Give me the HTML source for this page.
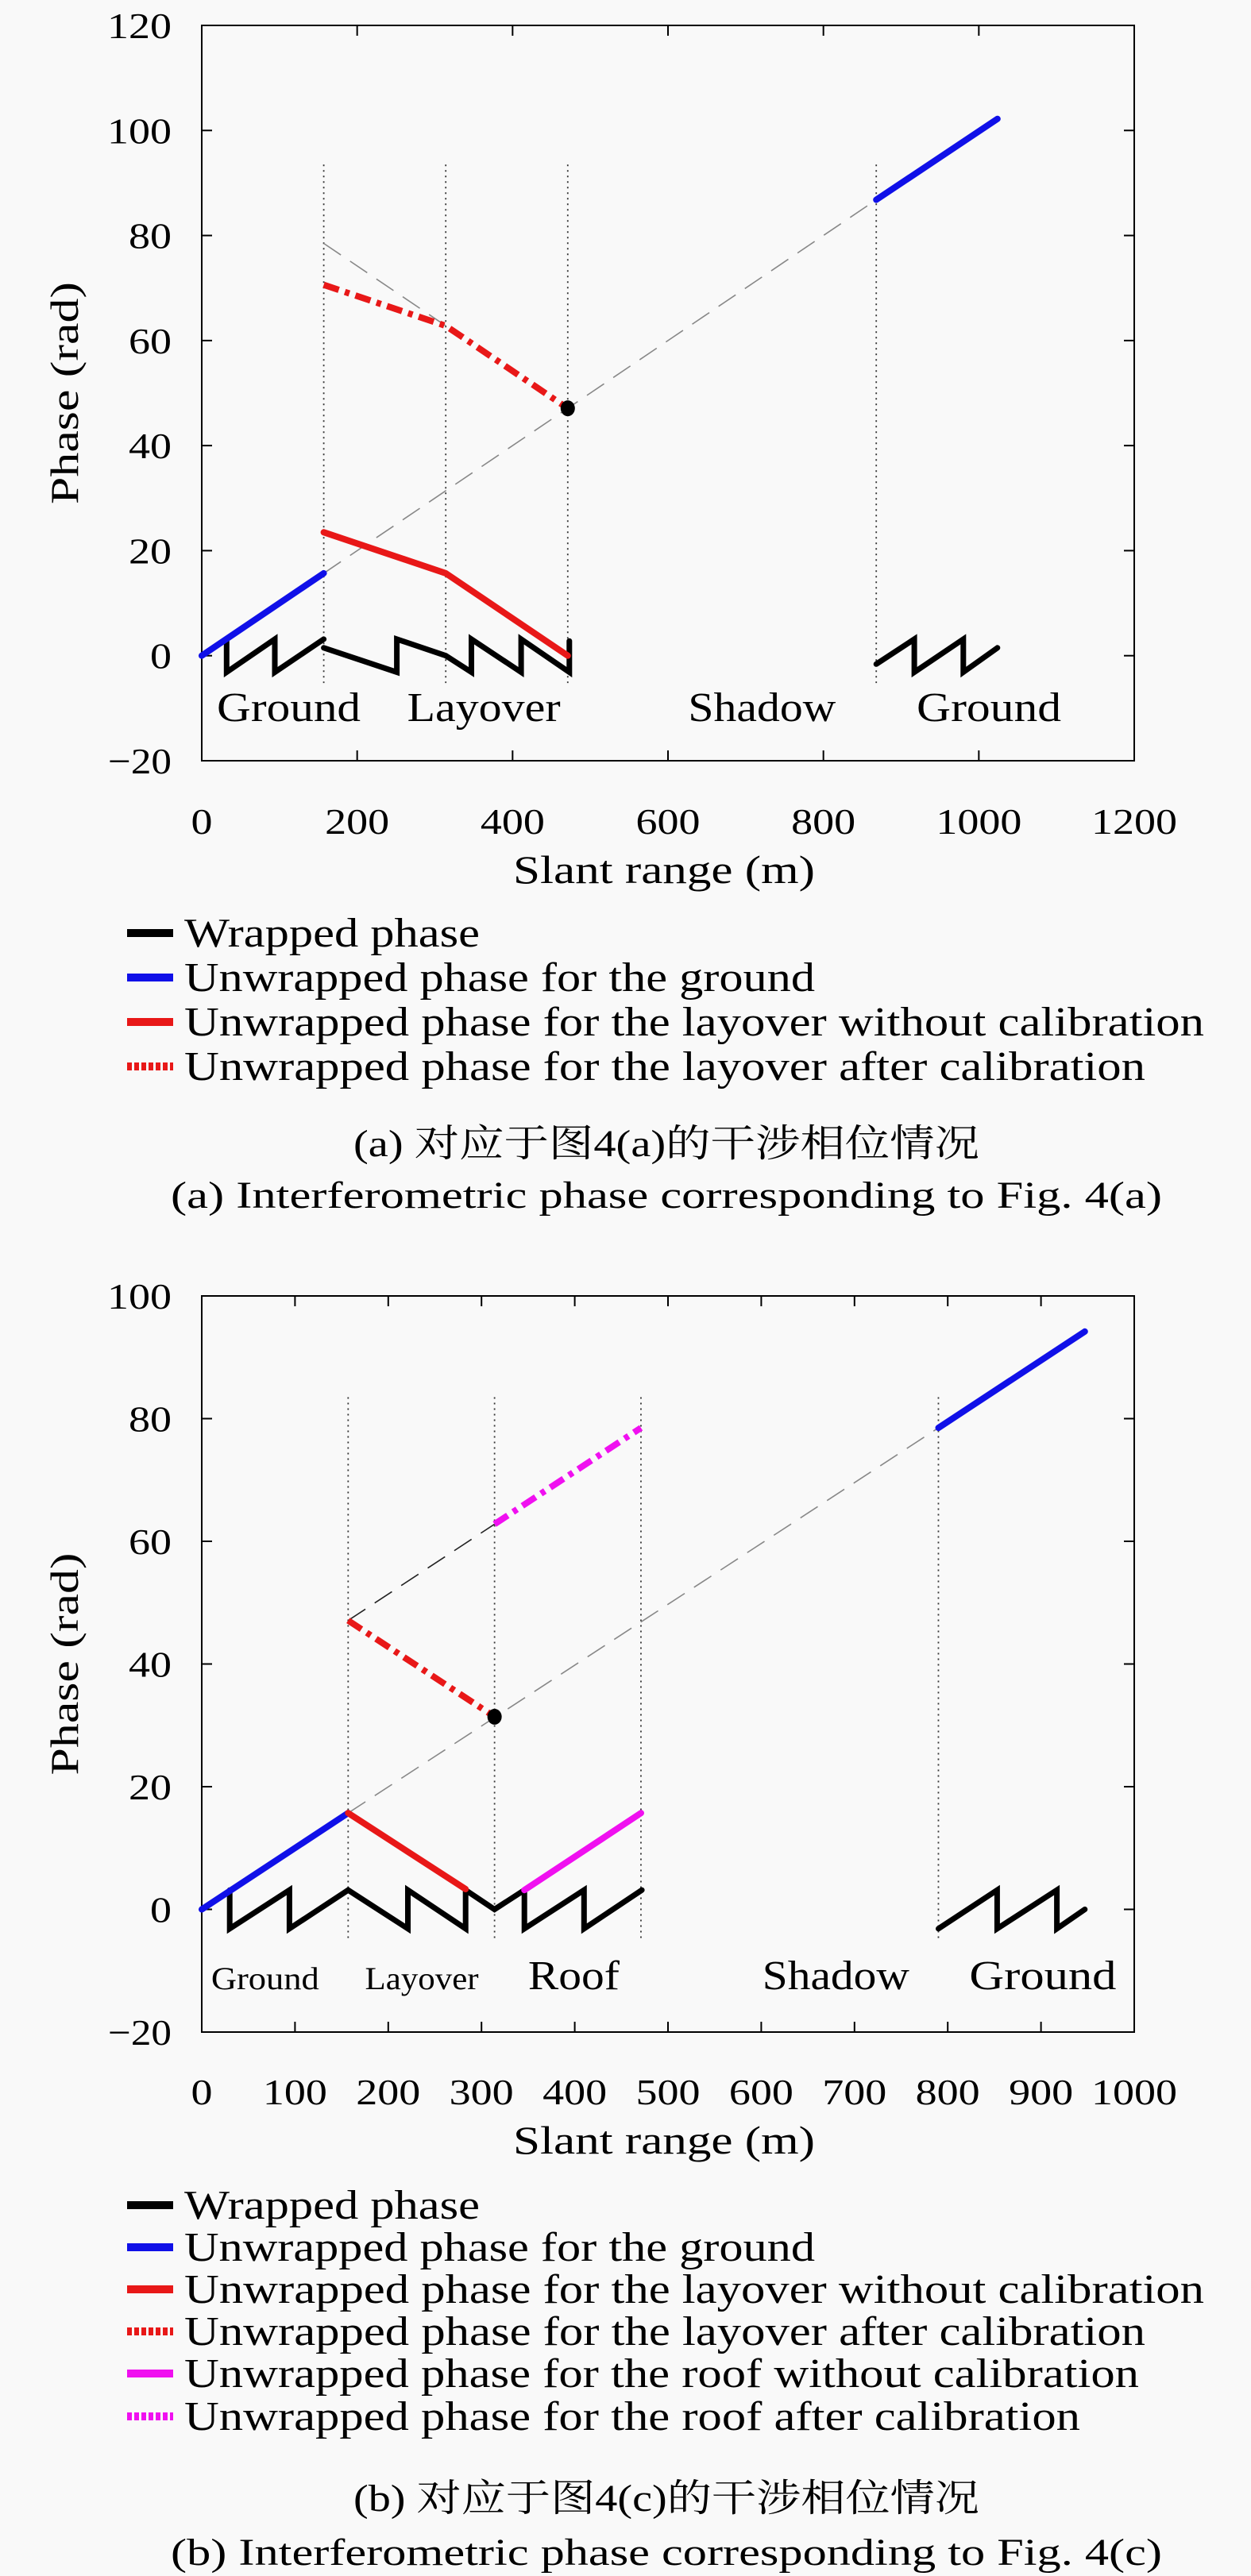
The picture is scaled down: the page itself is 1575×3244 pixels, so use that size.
<!DOCTYPE html>
<html><head><meta charset="utf-8">
<style>
html,body{margin:0;padding:0;background:#f9f9f9;}
svg{display:block;}
text{font-family:"Liberation Serif","Noto Serif CJK SC",serif;fill:#000;}
</style></head>
<body>
<svg id="root" width="1575" height="3244" viewBox="0 0 1575 3244"></svg>
<script>
// ---------- Chart (a) data ----------
const aXTicks = [0,200,400,600,800,1000,1200];
const aYTicks = [-20,0,20,40,60,80,100,120];
const aGround1 = [[0,0],[157,15.7]];
const aGround2 = [[868,86.8],[1024,102.2]];
const aRefLine = [[157,15.7],[868,86.8]];
const aRefLine2 = [[157,78.5],[314,62.8]];
const aLayoverRaw = [[157,23.5],[314,15.7],[471,0]];
const aLayoverCal = [[157,70.6],[314,62.8],[471,47.1]];
const aDot = [471,47.1];
const aBoundaries = [157,314,471,868];
const aWrapped1 = [[32,3.14],[32,-3.14],[94,3.14],[94,-3.14],[157,3.14]];
const aWrapped2 = [[157,1.5],[251,-3.14],[251,3.14],[314,0],[347,-3.14],[347,3.14],[411,-3.14],[411,3.14],[473,-3.14],[473,2.8]];
const aWrapped3 = [[868,-1.6],[917,3.14],[917,-3.14],[980,3.14],[980,-3.14],[1024,1.5]];
const aRegionNames = ["Ground","Layover","Shadow","Ground"];
const aRegionX = [112,363,721,1013];

// ---------- Chart (b) data ----------
const bXTicks = [0,100,200,300,400,500,600,700,800,900,1000];
const bYTicks = [-20,0,20,40,60,80,100];
const bGround1 = [[0,0],[157,15.7]];
const bGround2 = [[790,78.5],[947,94.2]];
const bRefLine = [[157,15.7],[790,78.5]];
const bRefLine2 = [[157,47.1],[314,62.8]];
const bLayoverRaw = [[157,15.7],[283,3.3]];
const bLayoverCal = [[157,47.1],[314,31.4]];
const bRoofRaw = [[346,3.14],[471,15.7]];
const bRoofCal = [[314,62.8],[471,78.5]];
const bDot = [314,31.4];
const bBoundaries = [157,314,471,790];
const bWrapped1 = [[30,3.14],[30,-3.14],[94,3.14],[94,-3.14],[157,3.14],[221,-3.14],[221,3.14],[283,-3.14],[283,3.14],[314,0],[346,3.14],[346,-3.14],[410,3.14],[410,-3.14],[472,3.14]];
const bWrapped2 = [[790,-3.14],[853,3.14],[853,-3.14],[917,3.14],[917,-3.14],[947,0]];
const bRegionNames = ["Ground","Layover","Roof","Shadow","Ground"];
const bRegionX = [68,236,399,680,902];

const NS = "http://www.w3.org/2000/svg";
const root = document.getElementById('root');
function mk(tag, attrs, parent){
  const e = document.createElementNS(NS, tag);
  for (const k in attrs) e.setAttribute(k, attrs[k]);
  (parent||root).appendChild(e);
  return e;
}
function txt(s, attrs, parent){ const e = mk('text', attrs, parent); e.textContent = s; return e; }

function chart(cfg){
  const g = mk('g', {});
  
  
  const L=254, R=1428, T=cfg.top, B=cfg.bottom;
  const X = v => L + (v - cfg.xmin)/(cfg.xmax-cfg.xmin)*(R-L);
  const Y = v => B - (v - cfg.ymin)/(cfg.ymax-cfg.ymin)*(B-T);
  const pts = arr => arr.map(p => X(p[0]).toFixed(1)+','+Y(p[1]).toFixed(1)).join(' ');
  // axes box
  const box = mk('rect', {x:L,y:T,width:R-L,height:B-T,fill:'none',stroke:'#000','stroke-width':2}, g);
  
  
  cfg.xticks.forEach(t => {
    const x = X(t);
    mk('line',{x1:x,y1:B,x2:x,y2:B-13,stroke:'#000','stroke-width':2},g);
    mk('line',{x1:x,y1:T,x2:x,y2:T+13,stroke:'#000','stroke-width':2},g);
    const s = String(t);
    const lab = txt(s,{x:x,y:cfg.xlabY,'text-anchor':'middle','font-size':46,textLength:s.length*27,lengthAdjust:'spacingAndGlyphs'},g);
    
    
  });
  cfg.yticks.forEach(t => {
    const y = Y(t);
    mk('line',{x1:L,y1:y,x2:L+13,y2:y,stroke:'#000','stroke-width':2},g);
    mk('line',{x1:R,y1:y,x2:R-13,y2:y,stroke:'#000','stroke-width':2},g);
    const s = t<0 ? '\u2212'+Math.abs(t) : String(t);
    const w = String(Math.abs(t)).length*27 + (t<0?26:0);
    const lab = txt(s,{x:216,y:y+16,'text-anchor':'end','font-size':46,textLength:w,lengthAdjust:'spacingAndGlyphs'},g);
    
    
  });
  // boundaries
  cfg.bounds.forEach(b => {
    const l = mk('line',{x1:X(b),y1:Y(cfg.boundTop),x2:X(b),y2:Y(-5.2),stroke:'#333','stroke-width':1.8,'stroke-dasharray':'2 5'},g);
    
    
  });
  // reference dashed lines
  cfg.refs.forEach(r => {
    const l = mk('polyline',{points:pts(r.d),fill:'none',stroke:r.c,'stroke-width':1.6,'stroke-dasharray':'26 14'},g);
    
    
  });
  // wrapped
  cfg.wrapped.forEach(w => {
    const l = mk('polyline',{points:pts(w),fill:'none',stroke:'#000','stroke-width':7,'stroke-linejoin':'miter','stroke-linecap':'round'},g);
    
    
  });
  // series
  cfg.series.forEach(s => {
    const a = {points:pts(s.d),fill:'none',stroke:s.c,'stroke-width':8,'stroke-linecap':s.dash?'butt':'round','stroke-linejoin':'round'};
    if (s.dash) a['stroke-dasharray'] = '20 8 6 8';
    const l = mk('polyline',a,g);
    
    
  });
  const dot = mk('ellipse',{cx:X(cfg.dot[0]),cy:Y(cfg.dot[1]),rx:9,ry:10,fill:'#000'},g);
  
  
  cfg.regions.forEach((r,i) => {
    const t = txt(r.n,{x:X(cfg.regionX[i]),y:cfg.regY,'text-anchor':'middle','font-size':r.fs,textLength:r.w,lengthAdjust:'spacingAndGlyphs'},g);
    
    
  });
  const xt = txt('Slant range (m)',{x:836,y:cfg.xtitleY,'text-anchor':'middle','font-size':50,textLength:380,lengthAdjust:'spacingAndGlyphs'},g);
  
  
  const cy = (T+B)/2;
  const yt = txt('Phase (rad)',{x:0,y:0,'text-anchor':'middle','font-size':50,textLength:280,lengthAdjust:'spacingAndGlyphs',transform:'translate(98,'+cy+') rotate(-90)'},g);
  
  
}

function legend(items, ys, name){
  const g = mk('g', {});
  
  
  items.forEach((it,i) => {
    const y = ys[i];
    const a = {x1:160,y1:y-17,x2:218,y2:y-17,stroke:it.c,'stroke-width':10};
    if (it.dash) a['stroke-dasharray'] = '6 3';
    const sw = mk('line',a,g);
    
    
    const t = txt(it.t,{x:232,y:y,'font-size':52,textLength:it.w,lengthAdjust:'spacingAndGlyphs'},g);
    
    
  });
}
function caption(s, y, x1, x2, name){
  const t = txt(s,{x:x1,y:y,'font-size':48,textLength:x2-x1,lengthAdjust:'spacingAndGlyphs'});
  
  
}

chart({name:'chart-a',top:32,bottom:958,xmin:0,xmax:1200,ymin:-20,ymax:120,
  xticks:aXTicks,yticks:aYTicks,xlabY:1050,xtitleY:1112,boundTop:93.5,bounds:aBoundaries,
  refs:[{d:aRefLine,c:'#888'},{d:aRefLine2,c:'#888'}],
  wrapped:[aWrapped1,aWrapped2,aWrapped3],
  series:[{d:aGround1,c:'#1010e8',name:'ground-unwrapped'},{d:aGround2,c:'#1010e8',name:'ground-unwrapped'},
          {d:aLayoverRaw,c:'#e81818',name:'layover-uncalibrated'},{d:aLayoverCal,c:'#e81818',dash:1,name:'layover-calibrated'}],
  dot:aDot, regionX:aRegionX, regY:908,
  regions:aRegionNames.map((n,i)=>({n:n,fs:52,w:[181,193,186,182][i]}))});

chart({name:'chart-b',top:1632,bottom:2559,xmin:0,xmax:1000,ymin:-20,ymax:100,
  xticks:bXTicks,yticks:bYTicks,xlabY:2650,xtitleY:2712,boundTop:83.5,bounds:bBoundaries,
  refs:[{d:bRefLine,c:'#888'},{d:bRefLine2,c:'#222'}],
  wrapped:[bWrapped1,bWrapped2],
  series:[{d:bGround1,c:'#1010e8',name:'ground-unwrapped'},{d:bGround2,c:'#1010e8',name:'ground-unwrapped'},
          {d:bLayoverRaw,c:'#e81818',name:'layover-uncalibrated'},{d:bLayoverCal,c:'#e81818',dash:1,name:'layover-calibrated'},
          {d:bRoofRaw,c:'#f010f0',name:'roof-uncalibrated'},{d:bRoofCal,c:'#f010f0',dash:1,name:'roof-calibrated'}],
  dot:bDot, regionX:bRegionX, regY:2505,
  regions:bRegionNames.map((n,i)=>({n:n,fs:[40,40,52,52,52][i],w:[136,143,115,185,185][i]}))});

legend([
  {t:'Wrapped phase',c:'#000',w:372},
  {t:'Unwrapped phase for the ground',c:'#1010e8',w:794},
  {t:'Unwrapped phase for the layover without calibration',c:'#e81818',w:1284},
  {t:'Unwrapped phase for the layover after calibration',c:'#e81818',dash:1,w:1210}
],[1192,1248,1304,1360],'legend-a');
caption('(a) 对应于图4(a)的干涉相位情况',1456,445,1233,'caption-a-chinese');
caption('(a) Interferometric phase corresponding to Fig. 4(a)',1521,215,1463,'caption-a-english');

legend([
  {t:'Wrapped phase',c:'#000',w:372},
  {t:'Unwrapped phase for the ground',c:'#1010e8',w:794},
  {t:'Unwrapped phase for the layover without calibration',c:'#e81818',w:1284},
  {t:'Unwrapped phase for the layover after calibration',c:'#e81818',dash:1,w:1210},
  {t:'Unwrapped phase for the roof without calibration',c:'#f010f0',w:1202},
  {t:'Unwrapped phase for the roof after calibration',c:'#f010f0',dash:1,w:1128}
],[2794,2847,2900,2953,3006,3060],'legend-b');
caption('(b) 对应于图4(c)的干涉相位情况',3162,445,1233,'caption-b-chinese');
caption('(b) Interferometric phase corresponding to Fig. 4(c)',3230,215,1463,'caption-b-english');
</script>
</body></html>
